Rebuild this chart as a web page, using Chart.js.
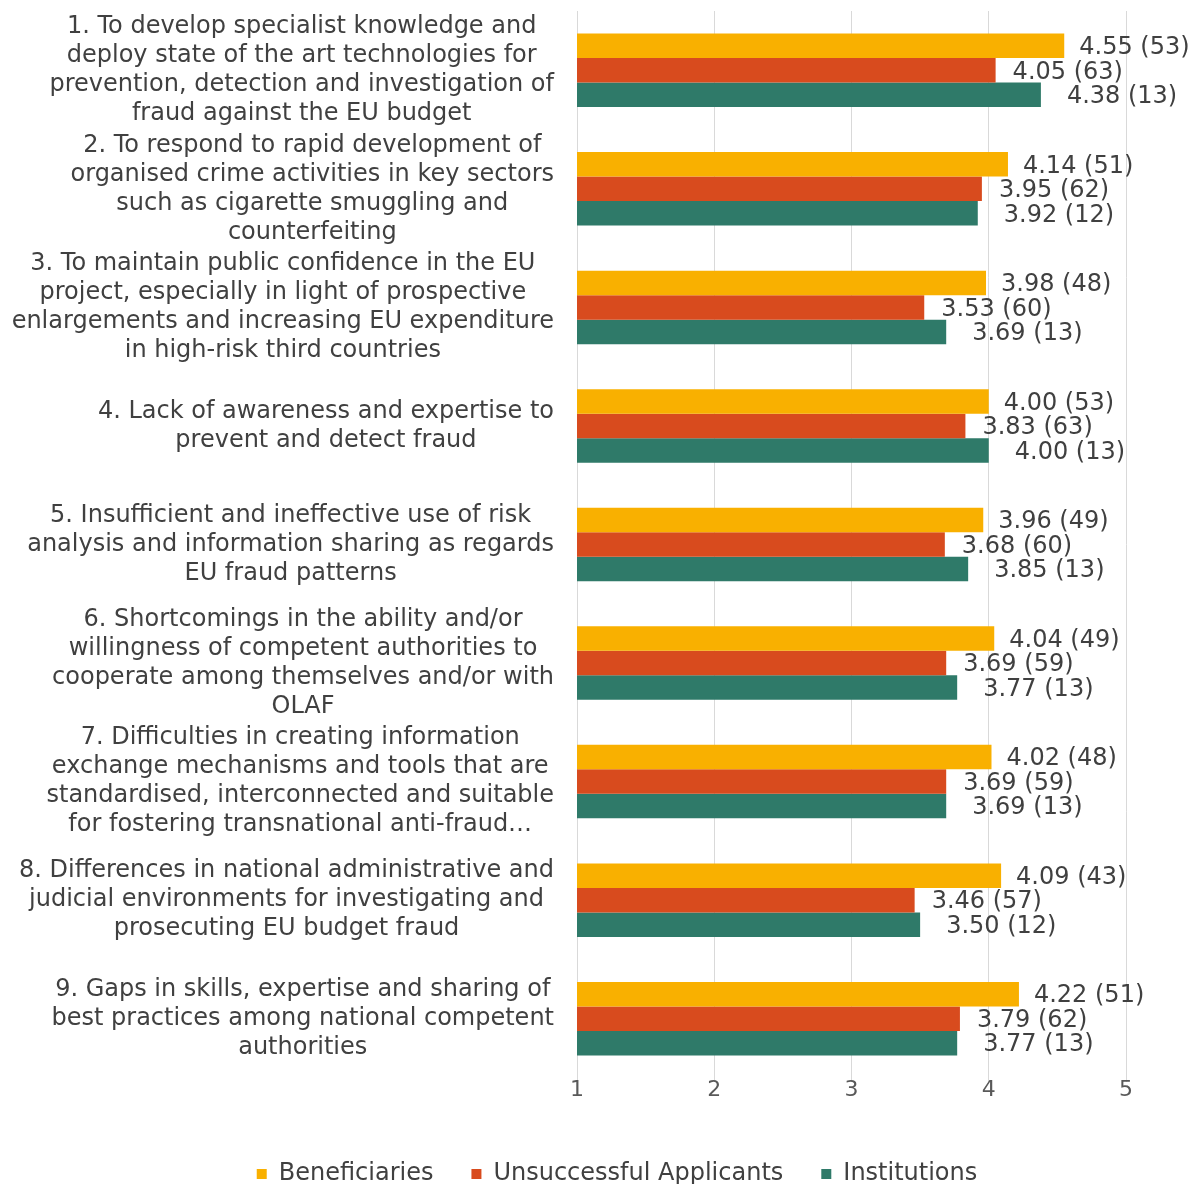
<!DOCTYPE html>
<html>
<head>
<meta charset="utf-8">
<script src="https://cdn.jsdelivr.net/npm/chart.js@4"></script>
<style>
  html, body { margin: 0; padding: 0; background: #fff; }
  #wrap { width: 1196px; height: 1184px; }
</style>
</head>
<body>
<div id="wrap"><canvas id="scoreChart"></canvas></div>
<script>
const categories = [
  ["1. To develop specialist knowledge and", "deploy state of the art technologies for", "prevention, detection and investigation of", "fraud against the EU budget"],
  ["2. To respond to rapid development of", "organised crime activities in key sectors", "such as cigarette smuggling and", "counterfeiting"],
  ["3. To maintain public confidence in the EU", "project, especially in light of prospective", "enlargements and increasing EU expenditure", "in high-risk third countries"],
  ["4. Lack of awareness and expertise to", "prevent and detect fraud"],
  ["5. Insufficient and ineffective use of risk", "analysis and information sharing as regards", "EU fraud patterns"],
  ["6. Shortcomings in the ability and/or", "willingness of competent authorities to", "cooperate among themselves and/or with", "OLAF"],
  ["7. Difficulties in creating information", "exchange mechanisms and tools that are", "standardised, interconnected and suitable", "for fostering transnational anti-fraud…"],
  ["8. Differences in national administrative and", "judicial environments for investigating and", "prosecuting EU budget fraud"],
  ["9. Gaps in skills, expertise and sharing of", "best practices among national competent", "authorities"],
];

const beneficiaries = [4.55, 4.14, 3.98, 4.00, 3.96, 4.04, 4.02, 4.09, 4.22];
const beneficiariesN = [53, 51, 48, 53, 49, 49, 48, 43, 51];
const unsuccessful = [4.05, 3.95, 3.53, 3.83, 3.68, 3.69, 3.69, 3.46, 3.79];
const unsuccessfulN = [63, 62, 60, 63, 60, 59, 59, 57, 62];
const institutions = [4.38, 3.92, 3.69, 4.00, 3.85, 3.77, 3.69, 3.50, 3.77];
const institutionsN = [13, 12, 13, 13, 13, 13, 13, 12, 13];

const xMin = 1;
const xMax = 5;

const FONT = "'DejaVu Sans', Verdana, sans-serif";
const TEXT = "#404040";

Chart.defaults.font.family = FONT;
Chart.defaults.font.size = 24;
Chart.defaults.color = TEXT;

// multi-line category names: block right-aligned, lines centred within it
const categoryLabels = {
  id: "categoryLabels",
  afterDraw(chart) {
    const { ctx } = chart;
    const y = chart.scales.y;
    const right = y.right - 23;
    const lineHeight = 29;
    ctx.save();
    ctx.font = "24px " + FONT;
    ctx.fillStyle = TEXT;
    ctx.textAlign = "center";
    ctx.textBaseline = "middle";
    categories.forEach((lines, i) => {
      const cy = y.getPixelForValue(i);
      const w = Math.max(...lines.map(l => ctx.measureText(l).width));
      const cx = right - w / 2;
      lines.forEach((line, k) => {
        ctx.fillText(line, cx, cy + (k - (lines.length - 1) / 2) * lineHeight);
      });
    });
    ctx.restore();
  },
};

// "mean (n)" after each bar
const valueLabels = {
  id: "valueLabels",
  afterDatasetsDraw(chart) {
    const { ctx } = chart;
    ctx.save();
    ctx.font = "24px " + FONT;
    ctx.fillStyle = TEXT;
    ctx.textAlign = "left";
    ctx.textBaseline = "middle";
    chart.data.datasets.forEach((ds, di) => {
      chart.getDatasetMeta(di).data.forEach((bar, i) => {
        const text = ds.data[i].toFixed(2) + " (" + ds.counts[i] + ")";
        ctx.fillText(text, bar.x + ds.labelOffset, bar.y + 2);
      });
    });
    ctx.restore();
  },
};

new Chart(document.getElementById("scoreChart"), {
  type: "bar",
  data: {
    labels: categories,
    datasets: [
      {
        label: "Beneficiaries",
        data: beneficiaries,
        counts: beneficiariesN,
        backgroundColor: "#F9B000",
        labelOffset: 15,
      },
      {
        label: "Unsuccessful Applicants",
        data: unsuccessful,
        counts: unsuccessfulN,
        backgroundColor: "#D84B1E",
        labelOffset: 17,
      },
      {
        label: "Institutions",
        data: institutions,
        counts: institutionsN,
        backgroundColor: "#2F7A69",
        labelOffset: 26,
      },
    ],
  },
  options: {
    indexAxis: "y",
    responsive: true,
    maintainAspectRatio: false,
    animation: false,
    layout: { padding: { top: 11, right: 70, left: 108, bottom: 0 } },
    datasets: {
      bar: {
        barPercentage: 1,
        categoryPercentage: 0.62,
        borderWidth: 0,
      },
    },
    plugins: {
      legend: {
        position: "bottom",
        maxHeight: 60,
        labels: {
          boxWidth: 10,
          boxHeight: 10,
          padding: 38,
          color: TEXT,
          font: { size: 24 },
        },
      },
      tooltip: { enabled: false },
    },
    scales: {
      x: {
        min: xMin,
        max: xMax,
        afterFit(scale) { scale.height = 46; },
        ticks: { stepSize: 1, color: "#595959", padding: -5, font: { size: 22 } },
        grid: { color: "#d9d9d9", tickLength: 4, tickColor: "#d9d9d9" },
        border: { display: false },
      },
      y: {
        afterFit(scale) { scale.width = 469; },
        ticks: { display: false },
        grid: { display: false },
        border: { display: false },
      },
    },
  },
  plugins: [categoryLabels, valueLabels],
});
</script>
</body>
</html>
